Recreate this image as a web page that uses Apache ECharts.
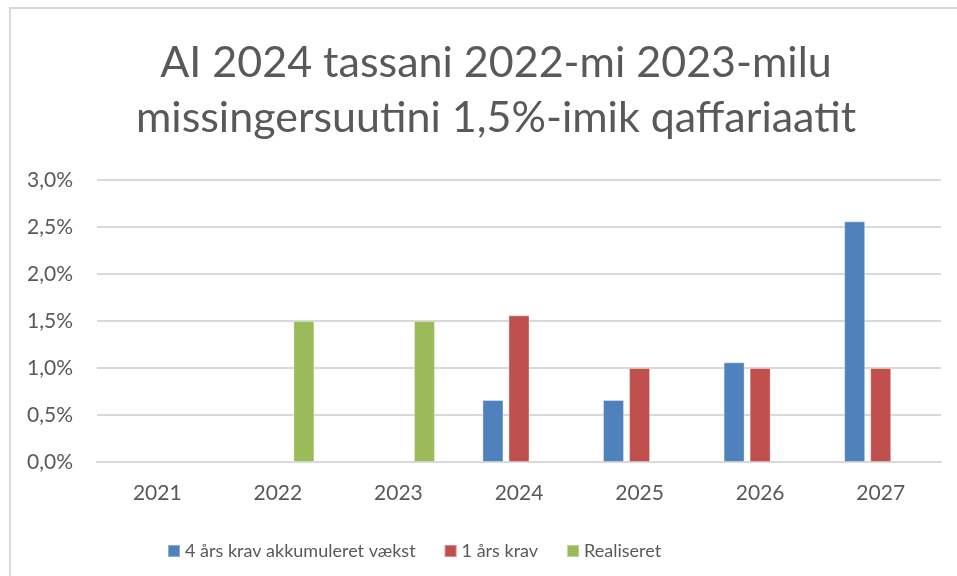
<!DOCTYPE html>
<html>
<head>
<meta charset="utf-8">
<script src="https://cdn.jsdelivr.net/npm/echarts@6/dist/echarts.min.js"></script>
<style>
  html, body { margin: 0; padding: 0; background: #fff; }
  #chart { width: 957px; height: 576px; }
</style>
</head>
<body>
<div id="chart"></div>
<script>
// data
var years = ['2021', '2022', '2023', '2024', '2025', '2026', '2027'];
var akkumuleret = [null, null, null, 0.66, 0.66, 1.06, 2.56];
var etAarsKrav = [null, null, null, 1.56, 1.0, 1.0, 1.0];
var realiseret = [null, 1.5, 1.5, null, null, null, null];
var seriesNames = ['4 års krav akkumuleret vækst', '1 års krav', 'Realiseret'];
var titleLines = ['AI 2024 tassani 2022-mi 2023-milu', 'missingersuutini 1,5%-imik qaffariaatit'];

var textColor = '#595959';
var fontName = 'Lato, "Noto Sans", sans-serif';

function init() {
    var chart = echarts.init(document.getElementById('chart'));

    var barStyle = function (color) {
        return { color: color, borderColor: 'rgba(255,255,255,0.35)', borderWidth: 1 };
    };

    var option = {
        animation: false,
        textStyle: { fontFamily: fontName },
        // kader rundt om diagrammet
        graphic: [{
            type: 'rect',
            shape: { x: 10, y: 8, width: 970, height: 600 },
            style: { fill: 'none', stroke: '#d9d9d9', lineWidth: 2 },
            silent: true
        }],
        title: {
            text: titleLines.join('\n'),
            left: 491,
            top: 31,
            textAlign: 'center',
            textStyle: {
                color: textColor,
                fontFamily: fontName,
                fontWeight: 'normal',
                fontSize: 43,
                lineHeight: 55
            }
        },
        legend: {
            data: seriesNames,
            left: 162,
            top: 537,
            itemWidth: 12,
            itemHeight: 12,
            itemGap: 28,
            icon: 'rect',
            textStyle: { color: textColor, fontSize: 18, fontFamily: fontName }
        },
        grid: { left: 97, right: 16, top: 180, bottom: 114, containLabel: false },
        xAxis: {
            type: 'category',
            data: years,
            axisLine: { lineStyle: { color: '#d9d9d9', width: 2 } },
            axisTick: { show: false },
            axisLabel: { color: textColor, fontSize: 21, margin: 21, fontFamily: fontName }
        },
        yAxis: {
            type: 'value',
            min: 0,
            max: 3,
            interval: 0.5,
            axisLine: { show: false },
            axisTick: { show: false },
            splitLine: { lineStyle: { color: '#d9d9d9', width: 2 } },
            axisLabel: {
                color: textColor,
                fontSize: 21,
                margin: 24,
                fontFamily: fontName,
                formatter: function (v) { return v.toFixed(1).replace('.', ',') + '%'; }
            }
        },
        series: [
            { name: seriesNames[0], type: 'bar', data: akkumuleret, barWidth: 21, barGap: '24%', itemStyle: barStyle('#4f81bd') },
            { name: seriesNames[1], type: 'bar', data: etAarsKrav, barWidth: 21, barGap: '24%', itemStyle: barStyle('#c0504d') },
            { name: seriesNames[2], type: 'bar', data: realiseret, barWidth: 21, barGap: '24%', itemStyle: barStyle('#9bbb59') }
        ]
    };

    chart.setOption(option);
}

window.addEventListener('DOMContentLoaded', init);
</script>
</body>
</html>
